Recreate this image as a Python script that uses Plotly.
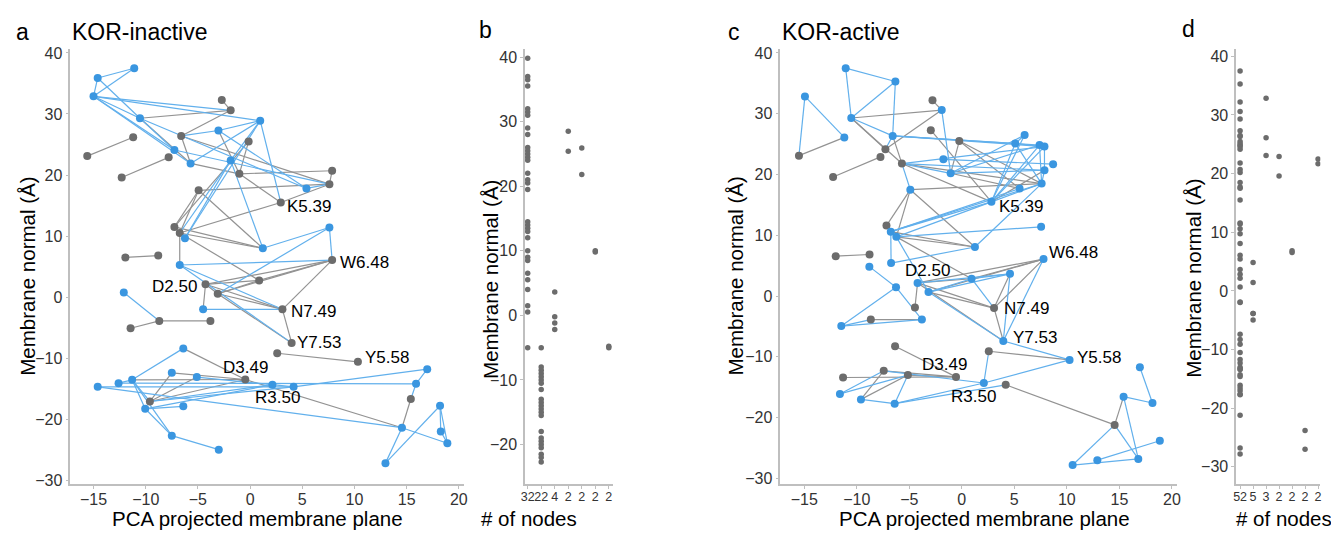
import plotly.graph_objects as go

W, H = 1339, 534      # browser window
OFF = 8               # default page margin of the html body
FW, FH = W - OFF, H - OFF

# ---------------- Panel a : KOR-inactive network ----------------
a_x = [-14.6, -11.1, -15.0, -10.55, 0.97, -3.03, -7.25, -5.7, -1.86, 5.4, -6.24, 1.22, 7.6, -6.74,
       -2.71, -1.86, -11.2, -15.6, -6.6, -7.8, -12.3, -0.14, -1.03, 7.86, 7.6, 2.94, -4.93, -7.25,
       -6.74, -11.95, -8.8, 7.86,
       -12.1, -4.5, -6.4, -14.6, -12.6, -11.3, -7.5, -5.1, 2.14, 4.17, -10.05, -6.4, -7.5, -3.0,
       16.97, 15.9, 14.55, 18.2, 18.27, 18.9, 12.97,
       -4.27, -3.1, 0.87, 3.1, 3.98, 2.6, 10.33, -11.45, -8.7, -3.8, -0.46, -9.6, 15.4]
a_y = [35.9, 37.5, 32.9, 29.3, 28.9, 27.3, 24.1, 21.9, 22.4, 17.8, 9.65, 8.0, 11.4, 5.26,
       32.3, 30.6, 26.2, 23.1, 26.4, 22.9, 19.6, 25.5, 20.2, 20.7, 18.5, 15.5, 17.5, 11.5,
       10.5, 6.5, 6.8, 6.06,
       0.75, -2.0, -8.4, -14.7, -14.1, -13.55, -12.4, -13.1, -14.35, -14.7, -18.3, -17.9, -22.7, -25.0,
       -11.8, -14.2, -21.4, -17.8, -22.0, -23.95, -27.2,
       2.1, 0.55, 2.74, -2.0, -7.5, -9.2, -10.6, -5.1, -3.9, -3.9, -13.5, -17.1, -16.7]
a_kind = list("BBBBBBBBBBBBBB" "GGGGGGGGGGGGGGGGGG" "BBBBBBBBBBBBBBBBBBBBB" "GGGGGGGGGGGGG")
a_blue_edges = [(1, 0), (1, 2), (0, 2), (0, 3), (2, 3), (2, 6), (2, 4), (2, 15), (2, 7), (3, 6),
                (4, 5), (4, 7), (4, 8), (4, 25), (4, 10), (5, 18), (5, 9), (6, 24), (3, 9), (8, 10),
                (8, 11), (8, 28), (9, 24), (11, 12), (12, 31), (13, 31), (13, 56), (13, 57), (54, 12),
                (33, 56), (32, 61), (34, 37), (35, 41), (36, 37), (36, 47), (37, 64), (37, 42), (37, 44),
                (35, 48), (64, 41), (64, 40), (42, 40), (42, 43), (44, 45), (42, 44), (40, 41), (41, 46),
                (65, 47), (46, 47), (49, 50), (50, 51), (49, 51), (49, 52), (48, 52), (48, 51), (39, 40)]
a_gray_edges = [(14, 15), (3, 15), (15, 18), (16, 17), (19, 20), (18, 7), (3, 7), (18, 24), (21, 22),
                (22, 25), (22, 23), (7, 22), (5, 22), (26, 24), (26, 27), (26, 28), (26, 11), (25, 28),
                (25, 24), (23, 24), (27, 28), (28, 11), (27, 11), (21, 27), (28, 13), (28, 55), (29, 30),
                (53, 55), (54, 55), (53, 31), (54, 31), (31, 56), (53, 54), (53, 56), (54, 56), (54, 57),
                (56, 57), (53, 33), (60, 61), (61, 62), (58, 59), (34, 63), (37, 63), (38, 64), (38, 63),
                (39, 64), (64, 63), (63, 48), (65, 48), (55, 31)]
# label: node index, text, xanchor, xshift(px), yshift(px)
a_labels = [(25, "K5.39", "left", 4, -4), (31, "W6.48", "left", 6, -2), (53, "D2.50", "right", -7, -2),
            (56, "N7.49", "left", 7, -2), (57, "Y7.53", "left", 3, 0), (59, "Y5.58", "left", 5, 4),
            (63, "D3.49", "center", 0, 12), (40, "R3.50", "center", 5, -13)]

# ---------------- Panel b : node counts per component (inactive) ----------------
b_col1 = [39.8, 37.0, 36.5, 35.5, 32.0, 31.5, 31.0, 29.0, 28.0, 26.0, 25.5, 25.0, 24.5, 24.0, 22.0, 21.0,
          20.5, 19.5, 14.5, 14.0, 13.5, 13.0, 12.0, 10.0, 9.0, 8.5, 6.5, 5.5, 4.0, 1.5, 0.5, -5.0]
b_col2 = [-5.0, -8.0, -8.5, -9.0, -9.5, -10.0, -10.5, -11.5, -13.0, -13.5, -14.0, -14.5, -15.0, -15.5,
          -18.0, -19.0, -19.5, -20.0, -20.5, -21.5, -22.0, -22.7]
b_col3 = [3.6, -0.2, -1.2, -2.2]
b_col4 = [28.5, 25.4]
b_col5 = [25.9, 21.8]
b_col6 = [10.0, 9.8]
b_col7 = [-4.8, -5.0]
b_columns = [b_col1, b_col2, b_col3, b_col4, b_col5, b_col6, b_col7]

# ---------------- Panel c : KOR-active network ----------------
c_x = [-11.05, -6.32, -14.93, -10.52, -11.18, -1.91, -6.58, 5.98, 5.09, 7.4, 7.87, 8.69, 7.87, 7.6, 5.5,
       -1.75, -1.06, -4.9, 2.82, 7.55, -6.76, -6.23, 1.25, 7.78, -6.73, -8.8,
       -2.79, -2.95, -0.24, -7.27, -7.74, -15.5, -5.7, -12.25, -7.17, -12.0, -8.78,
       -4.21, -6.26, -3.17, 0.93, 4.59, -11.47, -3.8, 3.95, 10.26, -11.6, -9.6, -6.39, 2.1, 16.95, 15.4,
       18.15, 18.85, 16.8, 12.9, 10.55,
       -4.46, 3.07, -8.66, -6.35, 2.57, -7.43, -5.13, -11.3, -0.55, 4.18, 14.55]
c_y = [37.5, 35.3, 32.85, 29.3, 26.1, 30.6, 26.35, 26.5, 25.1, 24.85, 24.6, 21.7, 20.7, 18.5, 17.7,
       22.5, 20.2, 17.5, 15.5, 11.4, 10.6, 9.74, 8.07, 6.08, 5.43, 4.84,
       32.2, 27.3, 25.5, 24.15, 22.9, 23.1, 21.8, 19.6, 11.6, 6.56, 6.84,
       2.16, 1.45, 0.65, 2.85, 3.66, -4.94, -3.87, -7.4, -10.5, -16.1, -17.0, -17.7, -14.3, -11.7, -16.55,
       -17.6, -23.8, -26.8, -27.0, -27.8,
       -1.88, -1.98, -3.87, -8.27, -9.08, -12.3, -13.0, -13.4, -13.3, -14.6, -21.2]
c_kind = list("BBBBBBBBBBBBBBBBBBBBBBBBBB" "GGGGGGGGGGG" "BBBBBBBBBBBBBBBBBBBB" "GGGGGGGGGGG")
# connected component (column in panel d) of every node
c_comp = [0, 0, 2, 0, 2, 0, 0, 0, 0, 0, 0, 6, 0, 0, 0, 6, 0, 0, 0, 0, 0, 0, 0, 0, 0, 1,
          0, 0, 0, 0, 3, 2, 0, 3, 0, 4, 4,
          0, 1, 0, 0, 0, 1, 1, 0, 0, 0, 0, 0, 0, 0, 0, 0, 5, 0, 5, 0,
          0, 0, 1, 0, 0, 0, 0, 0, 0, 0, 0]
c_blue_edges = [(0, 1), (0, 3), (1, 3), (1, 6), (2, 4), (2, 31), (3, 6), (6, 29), (5, 16), (6, 9), (6, 10),
                (6, 8), (32, 17), (32, 16), (32, 12), (32, 10), (20, 18), (21, 18), (20, 14), (20, 13),
                (21, 19), (20, 24), (21, 39), (22, 24), (22, 13), (18, 7), (18, 8), (18, 9), (18, 10),
                (18, 13), (15, 11), (16, 7), (16, 9), (16, 12), (7, 8), (8, 10), (9, 10), (10, 12),
                (12, 13), (8, 13), (9, 13), (37, 41), (39, 40), (39, 41), (40, 41), (40, 58), (41, 44),
                (23, 44), (39, 44), (44, 45), (61, 49), (49, 45), (25, 38), (38, 42), (38, 43), (42, 43),
                (42, 59), (46, 63), (46, 62), (47, 48), (48, 49), (48, 66), (63, 48), (62, 49), (67, 56),
                (67, 54), (51, 52), (50, 52), (51, 54), (56, 54), (55, 53)]
c_gray_edges = [(31, 4), (3, 5), (3, 32), (3, 29), (26, 5), (5, 29), (30, 33), (6, 32), (27, 18), (28, 16),
                (28, 13), (28, 14), (17, 34), (17, 21), (17, 22), (17, 13), (34, 20), (34, 21), (21, 22),
                (20, 22), (18, 12), (16, 14), (32, 18), (32, 13), (35, 36), (37, 23), (37, 40), (39, 23),
                (40, 23), (37, 58), (39, 58), (37, 44), (37, 57), (41, 58), (23, 58), (58, 44), (61, 45),
                (59, 43), (60, 65), (64, 65), (62, 47), (62, 65), (63, 47), (63, 65), (66, 67), (67, 51),
                (21, 40)]
c_labels = [(18, "K5.39", "left", 6, -5), (23, "W6.48", "left", 3, 7), (37, "D2.50", "center", 10, 12),
            (58, "N7.49", "left", 8, 0), (44, "Y7.53", "left", 8, 4), (45, "Y5.58", "left", 5, 2),
            (65, "D3.49", "center", -12, 12), (49, "R3.50", "center", -10, -14)]

BLUE_NODE = "#3a96e0"
GRAY_NODE = "#6c6c6c"
BLUE_EDGE = "#62b0ec"
GRAY_EDGE = "#939393"
AXIS_COL = "#bfbfbf"
FONT = "Liberation Sans, Arial, Helvetica, sans-serif"

fig = go.Figure()


def add_network(xs, ys, kinds, blue_edges, gray_edges, xa, ya):
    for edges, color in ((gray_edges, GRAY_EDGE), (blue_edges, BLUE_EDGE)):
        ex, ey = [], []
        for i, j in edges:
            ex += [xs[i], xs[j], None]
            ey += [ys[i], ys[j], None]
        fig.add_trace(go.Scatter(x=ex, y=ey, mode="lines", line=dict(color=color, width=1.2),
                                 xaxis=xa, yaxis=ya, hoverinfo="skip", showlegend=False))
    for kind, color in (("G", GRAY_NODE), ("B", BLUE_NODE)):
        idx = [k for k, t in enumerate(kinds) if t == kind]
        fig.add_trace(go.Scatter(x=[xs[k] for k in idx], y=[ys[k] for k in idx], mode="markers",
                                 marker=dict(color=color, size=8, line=dict(width=0)),
                                 xaxis=xa, yaxis=ya, showlegend=False))


def add_strip(columns, xa, ya):
    sx, sy = [], []
    for ci, col in enumerate(columns):
        sx += [ci] * len(col)
        sy += col
    fig.add_trace(go.Scatter(x=sx, y=sy, mode="markers",
                             marker=dict(color=GRAY_NODE, size=5.5, line=dict(width=0)),
                             xaxis=xa, yaxis=ya, showlegend=False))


add_network(a_x, a_y, a_kind, a_blue_edges, a_gray_edges, "x", "y")
add_strip(b_columns, "x2", "y2")
add_network(c_x, c_y, c_kind, c_blue_edges, c_gray_edges, "x3", "y3")
n_comp = max(c_comp) + 1
d_columns = [[c_y[k] for k in range(len(c_y)) if c_comp[k] == ci] for ci in range(n_comp)]
add_strip(d_columns, "x4", "y4")


def fx(p):
    return (p - OFF) / FW


def fy(p):
    return 1 - (p - OFF) / FH


ydom = [fy(488), fy(45)]
common = dict(showgrid=False, zeroline=False, showline=True, linecolor=AXIS_COL, linewidth=1.5,
              ticks="outside", ticklen=3, tickcolor=AXIS_COL, tickwidth=1,
              tickfont=dict(size=16, color="#333333", family=FONT), fixedrange=True)
xcommon = dict(common, ticklabelstandoff=-3)
small_x = dict(xcommon, tickfont=dict(size=12.5, color="#333333", family=FONT), tickangle=0)

fig.update_layout(
    width=FW, height=FH, margin=dict(l=0, r=0, t=0, b=0),
    paper_bgcolor="white", plot_bgcolor="white", showlegend=False,
    font=dict(family=FONT),
    xaxis=dict(domain=[fx(66.7), fx(463)], range=[-17.22, 20.52], anchor="y",
               tickvals=list(range(-15, 21, 5)), **xcommon),
    yaxis=dict(domain=ydom, range=[-30.6, 40.6], anchor="x", tickvals=list(range(-30, 41, 10)), **common),
    xaxis2=dict(domain=[fx(524.1), fx(612.5)], range=[-0.2, 6.3], anchor="y2",
                tickvals=list(range(len(b_columns))), ticktext=[str(len(c)) for c in b_columns], **small_x),
    yaxis2=dict(domain=ydom, range=[-26.1, 41.2], anchor="x2", tickvals=list(range(-20, 41, 10)), **common),
    xaxis3=dict(domain=[fx(781), fx(1180)], range=[-17.27, 20.48], anchor="y3",
                tickvals=list(range(-15, 21, 5)), **xcommon),
    yaxis3=dict(domain=ydom, range=[-30.9, 40.6], anchor="x3", tickvals=list(range(-30, 41, 10)), **common),
    xaxis4=dict(domain=[fx(1239.6), fx(1324.3)], range=[-0.3, 6.18], anchor="y4",
                tickvals=list(range(len(d_columns))), ticktext=[str(len(c)) for c in d_columns], **small_x),
    yaxis4=dict(domain=ydom, range=[-32.9, 41.2], anchor="x4", tickvals=list(range(-30, 41, 10)), **common),
)

ann = []


def paper_text(text, px, py, size, xanchor="center", angle=0, color="black"):
    ann.append(dict(text=text, x=fx(px), y=fy(py), xref="paper", yref="paper", showarrow=False,
                    xanchor=xanchor, yanchor="middle", textangle=angle,
                    font=dict(size=size, color=color, family=FONT)))


# panel letters and titles
paper_text("a", 19, 27, 23)
paper_text("KOR-inactive", 66, 27, 23, xanchor="left")
paper_text("b", 484, 25, 23)
paper_text("c", 734, 27, 23)
paper_text("KOR-active", 781, 27, 23, xanchor="left")
paper_text("d", 1192, 24, 23)
# axis titles
paper_text("PCA projected membrane plane", 254.5, 523, 20.5)
paper_text("PCA projected membrane plane", 986.7, 523, 20.5)
paper_text("# of nodes", 528.5, 523, 20.5)
paper_text("# of nodes", 1288, 523, 20.5)
paper_text("Membrane normal (Å)", 24, 276, 20.5, angle=-90)
paper_text("Membrane normal (Å)", 490, 280, 20.5, angle=-90)
paper_text("Membrane normal (Å)", 736, 276, 20.5, angle=-90)
paper_text("Membrane normal (Å)", 1197, 278, 20.5, angle=-90)

# residue labels
for labels, xs, ys, xr, yr in ((a_labels, a_x, a_y, "x", "y"), (c_labels, c_x, c_y, "x3", "y3")):
    for idx, text, xanchor, dx, dy in labels:
        ann.append(dict(text=text, x=xs[idx], y=ys[idx], xref=xr, yref=yr, showarrow=False,
                        xanchor=xanchor, yanchor="middle", xshift=dx, yshift=dy,
                        font=dict(size=17, color="black", family=FONT)))

fig.update_layout(annotations=ann)
fig.write_html("out.html")
